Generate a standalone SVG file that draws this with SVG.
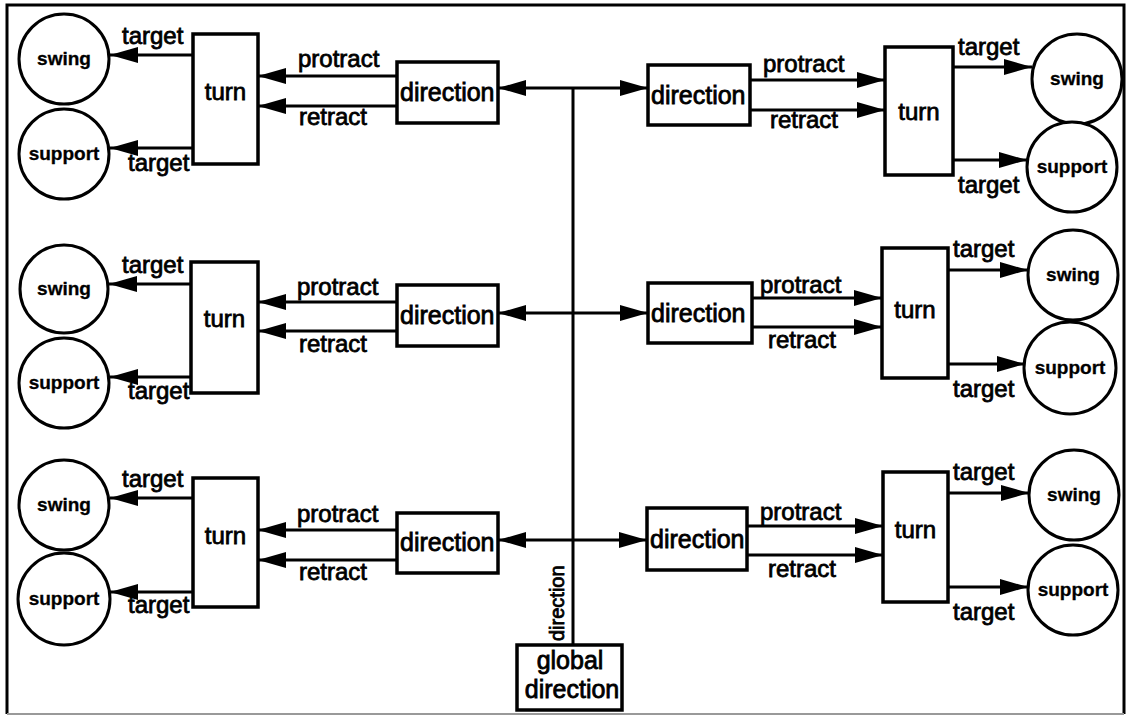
<svg xmlns="http://www.w3.org/2000/svg" width="1129" height="718" viewBox="0 0 1129 718">
<style>
  .box { fill: #fff; stroke: #000; stroke-width: 3.5; }
  .circ { fill: #fff; stroke: #000; stroke-width: 3; }
  .ln { fill: none; stroke: #000; stroke-width: 3; }
  .arr { fill: none; stroke: #000; stroke-width: 3; marker-end: url(#ah); }
  .lbl { font-family: "Liberation Sans", Arial, sans-serif; font-size: 24px; fill: #000; stroke: #000; stroke-width: 0.8; }
  .dir { font-family: "Liberation Sans", Arial, sans-serif; font-size: 25px; fill: #000; stroke: #000; stroke-width: 0.8; }
  .ctext { font-family: "Liberation Sans", Arial, sans-serif; font-size: 19px; font-weight: bold; fill: #000; stroke: #000; stroke-width: 0.3; text-anchor: middle; }
  .mid { text-anchor: middle; }
</style>
<defs>
  <marker id="ah" markerUnits="userSpaceOnUse" markerWidth="30" markerHeight="17" refX="28" refY="8" orient="auto">
    <path d="M0,0 L28,8 L0,16 Z" fill="#000"/>
  </marker>
</defs>
<rect x="0" y="0" width="1129" height="718" fill="#fff"/>
<g id="frame">
  <path d="M7,714 L7,5 L1124,5 L1124,714" class="ln" stroke-width="2"/>
  <line x1="7" y1="714" x2="1124" y2="714" stroke="#999" stroke-width="2"/>
</g>

<g id="connectors">
  <line x1="573" y1="88" x2="573" y2="645" class="ln"/>
  <line x1="573" y1="88" x2="498" y2="88" class="arr"/>
  <line x1="573" y1="88" x2="648" y2="88" class="arr"/>
  <line x1="573" y1="313" x2="498" y2="313" class="arr"/>
  <line x1="573" y1="313" x2="648" y2="313" class="arr"/>
  <line x1="573" y1="540" x2="498" y2="540" class="arr"/>
  <line x1="573" y1="540" x2="647" y2="540" class="arr"/>

  <line x1="397" y1="76" x2="258" y2="76" class="arr"/>
  <line x1="397" y1="106" x2="258" y2="106" class="arr"/>
  <line x1="193" y1="55" x2="110" y2="55" class="arr"/>
  <line x1="193" y1="148" x2="110" y2="148" class="arr"/>
  <line x1="750" y1="80" x2="885" y2="80" class="arr"/>
  <line x1="750" y1="110" x2="885" y2="110" class="arr"/>
  <line x1="953" y1="67" x2="1032" y2="67" class="arr"/>
  <line x1="953" y1="160" x2="1027" y2="160" class="arr"/>

  <line x1="397" y1="302" x2="258" y2="302" class="arr"/>
  <line x1="397" y1="331" x2="258" y2="331" class="arr"/>
  <line x1="191" y1="284" x2="109" y2="284" class="arr"/>
  <line x1="191" y1="377" x2="110" y2="377" class="arr"/>
  <line x1="752" y1="298" x2="882" y2="298" class="arr"/>
  <line x1="752" y1="327" x2="882" y2="327" class="arr"/>
  <line x1="948" y1="270" x2="1028" y2="270" class="arr"/>
  <line x1="948" y1="364" x2="1025" y2="364" class="arr"/>

  <line x1="397" y1="530" x2="258" y2="530" class="arr"/>
  <line x1="397" y1="560" x2="258" y2="560" class="arr"/>
  <line x1="193" y1="498" x2="110" y2="498" class="arr"/>
  <line x1="193" y1="592" x2="110" y2="592" class="arr"/>
  <line x1="747" y1="526" x2="883" y2="526" class="arr"/>
  <line x1="747" y1="555" x2="883" y2="555" class="arr"/>
  <line x1="948" y1="493" x2="1029" y2="493" class="arr"/>
  <line x1="948" y1="587" x2="1028" y2="587" class="arr"/>
</g>

<g id="labels">
  <text class="lbl" x="122" y="44">target</text>
  <text class="lbl" x="128" y="171">target</text>
  <text class="lbl" x="298" y="67">protract</text>
  <text class="lbl" x="299" y="125">retract</text>
  <text class="lbl" x="763" y="72">protract</text>
  <text class="lbl" x="770" y="128">retract</text>
  <text class="lbl" x="958" y="55">target</text>
  <text class="lbl" x="958" y="193">target</text>

  <text class="lbl" x="122" y="273">target</text>
  <text class="lbl" x="128" y="399">target</text>
  <text class="lbl" x="297" y="295">protract</text>
  <text class="lbl" x="299" y="352">retract</text>
  <text class="lbl" x="760" y="293">protract</text>
  <text class="lbl" x="768" y="348">retract</text>
  <text class="lbl" x="953" y="257">target</text>
  <text class="lbl" x="953" y="397">target</text>

  <text class="lbl" x="122" y="487">target</text>
  <text class="lbl" x="128" y="613">target</text>
  <text class="lbl" x="297" y="522">protract</text>
  <text class="lbl" x="299" y="580">retract</text>
  <text class="lbl" x="760" y="520">protract</text>
  <text class="lbl" x="768" y="577">retract</text>
  <text class="lbl" x="953" y="480">target</text>
  <text class="lbl" x="953" y="620">target</text>

  <text class="lbl" x="0" y="0" transform="translate(564,641) rotate(-90)" style="font-size:20px">direction</text>
</g>

<g id="swing-l1"><circle class="circ" cx="64" cy="59" r="45"/><text class="ctext" x="64" y="65">swing</text></g>
<g id="support-l1"><circle class="circ" cx="64" cy="154" r="45"/><text class="ctext" x="64" y="160">support</text></g>
<g id="turn-l1"><rect class="box" x="193" y="34" width="65" height="130"/><text class="lbl mid" x="225.5" y="100">turn</text></g>
<g id="direction-l1"><rect class="box" x="397" y="62" width="101" height="61"/><text class="dir" x="400" y="101">direction</text></g>
<g id="direction-r1"><rect class="box" x="648" y="65" width="102" height="60"/><text class="dir" x="651" y="104">direction</text></g>
<g id="turn-r1"><rect class="box" x="885" y="47" width="68" height="128"/><text class="lbl mid" x="919" y="120">turn</text></g>
<g id="swing-r1"><circle class="circ" cx="1077" cy="79" r="45"/><text class="ctext" x="1077" y="85">swing</text></g>
<g id="support-r1"><circle class="circ" cx="1072" cy="167" r="45"/><text class="ctext" x="1072" y="173">support</text></g>

<g id="swing-l2"><circle class="circ" cx="64" cy="289" r="44"/><text class="ctext" x="64" y="295">swing</text></g>
<g id="support-l2"><circle class="circ" cx="64" cy="383" r="45"/><text class="ctext" x="64" y="389">support</text></g>
<g id="turn-l2"><rect class="box" x="191" y="262" width="67" height="131"/><text class="lbl mid" x="224.5" y="327">turn</text></g>
<g id="direction-l2"><rect class="box" x="397" y="285" width="101" height="61"/><text class="dir" x="400" y="324">direction</text></g>
<g id="direction-r2"><rect class="box" x="648" y="283" width="104" height="60"/><text class="dir" x="651" y="322">direction</text></g>
<g id="turn-r2"><rect class="box" x="882" y="248" width="66" height="130"/><text class="lbl mid" x="915" y="318">turn</text></g>
<g id="swing-r2"><circle class="circ" cx="1073" cy="275" r="45"/><text class="ctext" x="1073" y="281">swing</text></g>
<g id="support-r2"><circle class="circ" cx="1070" cy="368" r="46"/><text class="ctext" x="1070" y="374">support</text></g>

<g id="swing-l3"><circle class="circ" cx="64" cy="505" r="45"/><text class="ctext" x="64" y="511">swing</text></g>
<g id="support-l3"><circle class="circ" cx="64" cy="599" r="46"/><text class="ctext" x="64" y="605">support</text></g>
<g id="turn-l3"><rect class="box" x="193" y="478" width="65" height="129"/><text class="lbl mid" x="225.5" y="544">turn</text></g>
<g id="direction-l3"><rect class="box" x="397" y="513" width="101" height="60"/><text class="dir" x="400" y="551">direction</text></g>
<g id="direction-r3"><rect class="box" x="647" y="508" width="100" height="62"/><text class="dir" x="650" y="548">direction</text></g>
<g id="turn-r3"><rect class="box" x="883" y="472" width="65" height="130"/><text class="lbl mid" x="915.5" y="538">turn</text></g>
<g id="swing-r3"><circle class="circ" cx="1074" cy="495" r="45"/><text class="ctext" x="1074" y="501">swing</text></g>
<g id="support-r3"><circle class="circ" cx="1073" cy="590" r="45"/><text class="ctext" x="1073" y="596">support</text></g>

<g id="global-direction"><rect class="box" x="517" y="645" width="105" height="65"/><text class="dir mid" x="570" y="669">global</text><text class="dir mid" x="572" y="698">direction</text></g>
</svg>
